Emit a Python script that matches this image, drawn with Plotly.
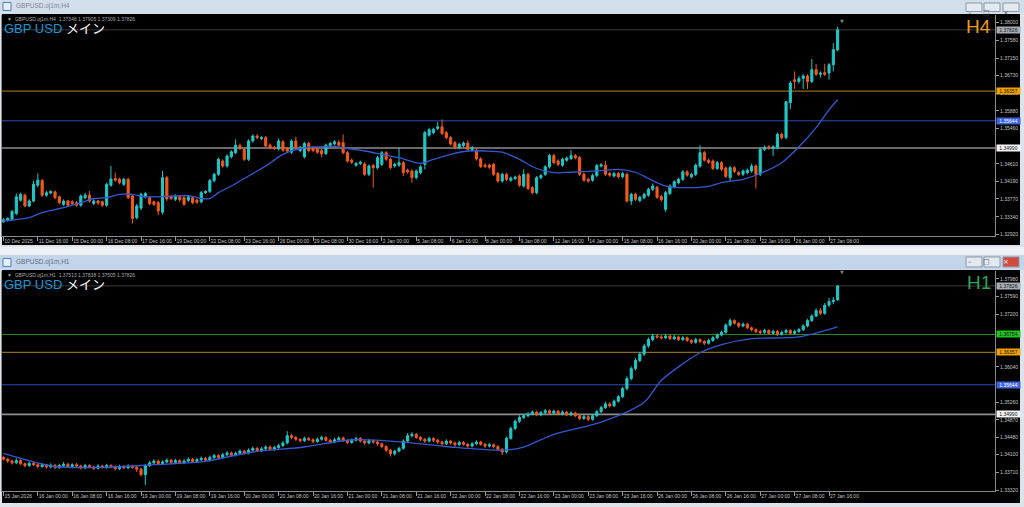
import plotly.graph_objects as go

# ---------------- H4 panel data ----------------
h4_tick_bars = [0, 8, 16, 24, 32, 40, 48, 56, 64, 72, 80, 88, 96, 104, 112, 120, 128, 136, 144, 152, 160, 168, 176, 184, 192]
h4_tick_labels = ["10 Dec 2025", "11 Dec 16:00", "15 Dec 00:00", "16 Dec 08:00", "17 Dec 16:00", "19 Dec 00:00",
                  "22 Dec 08:00", "23 Dec 16:00", "26 Dec 00:00", "29 Dec 08:00", "30 Dec 16:00", "2 Jan 00:00",
                  "5 Jan 08:00", "6 Jan 16:00", "8 Jan 00:00", "9 Jan 08:00", "12 Jan 16:00", "14 Jan 00:00",
                  "15 Jan 08:00", "16 Jan 16:00", "20 Jan 00:00", "21 Jan 08:00", "22 Jan 16:00", "26 Jan 00:00",
                  "27 Jan 08:00"]
h4_price_ticks = [1.32920, 1.33340, 1.33770, 1.34190, 1.34610, 1.35460, 1.35880, 1.36310, 1.36730,
                  1.37150, 1.37580, 1.38000]

h4_open = [1.3322,1.3326,1.3328,1.3342,1.3374,1.3386,1.3360,1.3372,1.3410,1.3421,1.3386,1.3391,1.3394,1.3382,1.3364,1.3372,1.3370,1.3368,1.3362,1.3380,
           1.3386,1.3366,1.3372,1.3370,1.3362,1.3410,1.3426,1.3424,1.3412,1.3424,1.3384,1.3332,1.3355,1.3382,1.3380,1.3370,1.3368,1.3345,1.3428,1.3382,
           1.3376,1.3382,1.3380,1.3374,1.3380,1.3374,1.3370,1.3392,1.3395,1.3421,1.3436,1.3468,1.3456,1.3478,1.3488,1.3505,1.3496,1.3472,1.3516,1.3528,
           1.3522,1.3524,1.3506,1.3501,1.3497,1.3514,1.3498,1.3489,1.3516,1.3493,1.3478,1.3510,1.3500,1.3496,1.3493,1.3486,1.3505,1.3509,1.3513,1.3512,
           1.3488,1.3470,1.3458,1.3462,1.3461,1.3436,1.3457,1.3452,1.3460,1.3488,1.3472,1.3456,1.3458,1.3464,1.3446,1.3444,1.3428,1.3440,1.3460,1.3530,
           1.3536,1.3546,1.3550,1.3536,1.3524,1.3512,1.3500,1.3505,1.3511,1.3495,1.3494,1.3473,1.3458,1.3458,1.3460,1.3438,1.3420,1.3436,1.3422,1.3426,
           1.3432,1.3408,1.3436,1.3404,1.3392,1.3428,1.3436,1.3454,1.3481,1.3468,1.3458,1.3470,1.3474,1.3481,1.3476,1.3436,1.3424,1.3422,1.3433,1.3456,
           1.3458,1.3438,1.3432,1.3438,1.3430,1.3436,1.3372,1.3388,1.3373,1.3380,1.3386,1.3400,1.3405,1.3383,1.3352,1.3390,1.3406,1.3416,1.3424,1.3442,
           1.3430,1.3436,1.3456,1.3488,1.3470,1.3468,1.3450,1.3464,1.3451,1.3428,1.3452,1.3440,1.3436,1.3440,1.3444,1.3456,1.3436,1.3496,1.3502,1.3498,
           1.3500,1.3532,1.3524,1.3608,1.3663,1.3659,1.3666,1.3672,1.3659,1.3687,1.3676,1.3680,1.3679,1.3699,1.37346]
h4_high = [1.3331,1.3333,1.3350,1.3390,1.3392,1.3390,1.3376,1.3420,1.3438,1.3425,1.3396,1.3398,1.3397,1.3385,1.3376,1.3375,1.3374,1.3372,1.3388,1.3392,
           1.3396,1.3376,1.3375,1.3373,1.3416,1.3456,1.3440,1.3428,1.3428,1.3428,1.3388,1.3365,1.3392,1.3394,1.3384,1.3373,1.3372,1.3444,1.3432,1.3386,
           1.3388,1.3386,1.3384,1.3386,1.3384,1.3378,1.3396,1.3398,1.3425,1.3440,1.3476,1.3472,1.3484,1.3494,1.3520,1.3510,1.3500,1.3520,1.3532,1.3532,
           1.3528,1.3528,1.3510,1.3504,1.3522,1.3518,1.3502,1.3520,1.3526,1.3504,1.3514,1.3514,1.3504,1.3500,1.3497,1.3510,1.3514,1.3518,1.3518,1.3532,
           1.3492,1.3474,1.3466,1.3469,1.3465,1.3460,1.3461,1.3480,1.3492,1.3492,1.3476,1.3464,1.3500,1.3468,1.3450,1.3448,1.3448,1.3458,1.3540,1.3548,
           1.3548,1.3562,1.3568,1.3540,1.3528,1.3516,1.3512,1.3515,1.3518,1.3504,1.3498,1.3477,1.3462,1.3462,1.3464,1.3442,1.3440,1.3440,1.3431,1.3433,
           1.3436,1.3448,1.3440,1.3408,1.3432,1.3437,1.3458,1.3485,1.3485,1.3472,1.3476,1.3479,1.3494,1.3485,1.3480,1.3440,1.3428,1.3437,1.3461,1.3463,
           1.3468,1.3442,1.3442,1.3442,1.3442,1.3440,1.3392,1.3392,1.3385,1.3392,1.3404,1.3414,1.3409,1.3387,1.3396,1.3412,1.3422,1.3428,1.3446,1.3446,
           1.3440,1.3462,1.3506,1.3492,1.3474,1.3472,1.3468,1.3468,1.3455,1.3456,1.3456,1.3444,1.3448,1.3450,1.3462,1.3460,1.3500,1.3505,1.3506,1.3506,
           1.3536,1.3536,1.3612,1.3660,1.3683,1.3672,1.3676,1.3676,1.3713,1.3701,1.3683,1.3701,1.3703,1.3751,1.37905]
h4_low = [1.3320,1.3323,1.3325,1.3338,1.3370,1.3357,1.3357,1.3369,1.3405,1.3382,1.3382,1.3388,1.3376,1.3364,1.3360,1.3358,1.3362,1.3358,1.3358,1.3376,
          1.3368,1.3362,1.3363,1.3358,1.3358,1.3406,1.3418,1.3412,1.3408,1.3376,1.3318,1.3328,1.3350,1.3378,1.3362,1.3360,1.3338,1.3340,1.3372,1.3374,
          1.3372,1.3370,1.3360,1.3370,1.3364,1.3365,1.3366,1.3389,1.3391,1.3417,1.3432,1.3452,1.3452,1.3474,1.3484,1.3494,1.3468,1.3468,1.3512,1.3520,
          1.3518,1.3500,1.3496,1.3494,1.3493,1.3490,1.3488,1.3485,1.3496,1.3489,1.3474,1.3489,1.3489,1.3485,1.3477,1.3482,1.3501,1.3505,1.3502,1.3484,
          1.3464,1.3461,1.3454,1.3458,1.3432,1.3432,1.3404,1.3448,1.3456,1.3468,1.3448,1.3452,1.3454,1.3432,1.3438,1.3416,1.3424,1.3436,1.3448,1.3526,
          1.3532,1.3542,1.3530,1.3520,1.3505,1.3496,1.3496,1.3501,1.3492,1.3491,1.3469,1.3451,1.3451,1.3449,1.3432,1.3416,1.3416,1.3420,1.3418,1.3422,
          1.3406,1.3404,1.3398,1.3388,1.3388,1.3424,1.3432,1.3450,1.3460,1.3456,1.3454,1.3466,1.3470,1.3472,1.3432,1.3418,1.3416,1.3418,1.3429,1.3452,
          1.3432,1.3430,1.3428,1.3426,1.3426,1.3368,1.3362,1.3372,1.3369,1.3376,1.3382,1.3396,1.3377,1.3371,1.3346,1.3386,1.3402,1.3412,1.3420,1.3430,
          1.3426,1.3432,1.3452,1.3466,1.3461,1.3446,1.3446,1.3444,1.3427,1.3420,1.3439,1.3432,1.3432,1.3436,1.3440,1.3402,1.3432,1.3492,1.3495,1.3480,
          1.3496,1.3520,1.3520,1.3592,1.3641,1.3654,1.3641,1.3641,1.3655,1.3672,1.3668,1.3672,1.3663,1.3683,1.37309]
h4_close = [1.3327,1.3330,1.3347,1.3382,1.3388,1.3360,1.3372,1.3412,1.3422,1.3386,1.3392,1.3395,1.3380,1.3368,1.3372,1.3362,1.3366,1.3362,1.3384,1.3386,
            1.3372,1.3372,1.3367,1.3362,1.3412,1.3425,1.3422,1.3416,1.3424,1.3380,1.3330,1.3360,1.3388,1.3390,1.3366,1.3364,1.3348,1.3428,1.3377,1.3378,
            1.3383,1.3375,1.3364,1.3382,1.3368,1.3369,1.3392,1.3395,1.3421,1.3436,1.3472,1.3456,1.3480,1.3490,1.3506,1.3498,1.3472,1.3516,1.3528,1.3524,
            1.3524,1.3504,1.3500,1.3498,1.3516,1.3494,1.3492,1.3516,1.3500,1.3500,1.3510,1.3493,1.3493,1.3489,1.3485,1.3506,1.3510,1.3514,1.3506,1.3488,
            1.3468,1.3465,1.3462,1.3465,1.3436,1.3456,1.3452,1.3476,1.3488,1.3472,1.3452,1.3460,1.3464,1.3440,1.3442,1.3428,1.3444,1.3454,1.3536,1.3543,
            1.3544,1.3550,1.3534,1.3524,1.3509,1.3500,1.3508,1.3511,1.3496,1.3500,1.3473,1.3455,1.3455,1.3453,1.3436,1.3420,1.3436,1.3424,1.3427,1.3429,
            1.3410,1.3436,1.3402,1.3392,1.3428,1.3433,1.3454,1.3481,1.3464,1.3460,1.3472,1.3475,1.3481,1.3476,1.3436,1.3422,1.3420,1.3433,1.3457,1.3459,
            1.3436,1.3434,1.3438,1.3430,1.3438,1.3372,1.3388,1.3376,1.3381,1.3388,1.3400,1.3408,1.3381,1.3375,1.3392,1.3408,1.3418,1.3424,1.3442,1.3434,
            1.3436,1.3458,1.3488,1.3470,1.3465,1.3450,1.3464,1.3448,1.3431,1.3452,1.3443,1.3436,1.3444,1.3446,1.3456,1.3436,1.3496,1.3501,1.3499,1.3502,
            1.3532,1.3524,1.3610,1.3655,1.3659,1.3666,1.3672,1.3659,1.3687,1.3676,1.3679,1.3676,1.3699,1.3735,1.37826]
h4_ma_bar = [0, 6, 9, 14, 18, 21, 24, 27, 30, 33, 38, 43, 46, 48, 50, 53, 57, 61, 65, 69, 73, 77, 80, 84, 88, 92, 97,
             100, 104, 108, 112, 116, 120, 124, 128, 132, 136, 140, 143, 147, 150, 154, 159, 164, 167, 172, 176, 181,
             185, 189, 192, 194]
h4_ma = [1.3324, 1.3332, 1.3344, 1.3356, 1.3368, 1.3378, 1.3380, 1.3388, 1.3388, 1.3382, 1.3383, 1.3385, 1.3378, 1.3378,
         1.3392, 1.3408, 1.3432, 1.3456, 1.3484, 1.3498, 1.3502, 1.3503, 1.3498, 1.3492, 1.3484, 1.3476, 1.3462,
         1.3472, 1.3484, 1.3492, 1.3492, 1.3489, 1.3472, 1.3450, 1.3440, 1.3441, 1.3443, 1.3446, 1.3448, 1.3441,
         1.3426, 1.3408, 1.3404, 1.3407, 1.3416, 1.3424, 1.3438, 1.3464, 1.3502, 1.3548, 1.3591, 1.3615]
h4_levels = [1.37826, 1.36357, 1.35644, 1.34990]

# ---------------- H1 panel data ----------------
h1_tick_bars = [0, 8, 16, 24, 32, 40, 48, 56, 64, 72, 80, 88, 96, 104, 112, 120, 128, 136, 144, 152, 160, 168, 176, 184, 192]
h1_tick_labels = ["15 Jan 2026", "16 Jan 00:00", "16 Jan 08:00", "16 Jan 16:00", "19 Jan 00:00", "19 Jan 08:00",
                  "19 Jan 16:00", "20 Jan 00:00", "20 Jan 08:00", "20 Jan 16:00", "21 Jan 00:00", "21 Jan 08:00",
                  "21 Jan 16:00", "22 Jan 00:00", "22 Jan 08:00", "22 Jan 16:00", "23 Jan 00:00", "23 Jan 08:00",
                  "23 Jan 16:00", "26 Jan 00:00", "26 Jan 08:00", "26 Jan 16:00", "27 Jan 00:00", "27 Jan 08:00",
                  "27 Jan 16:00"]
h1_price_ticks = [1.33320, 1.33710, 1.34100, 1.34480, 1.34870, 1.35260, 1.36040, 1.37200, 1.37590, 1.37980]

h1_open = [1.3404,1.3400,1.3396,1.3392,1.3397,1.3390,1.3386,1.3391,1.3388,1.3384,
           1.3388,1.3383,1.3387,1.3382,1.3386,1.3389,1.3384,1.3388,1.3385,1.3381,
           1.3386,1.3383,1.3380,1.3385,1.3382,1.3386,1.3383,1.3379,1.3384,1.3381,
           1.3385,1.3382,1.3378,1.3366,1.3386,1.3392,1.3396,1.3390,1.3394,1.3398,
           1.3393,1.3397,1.3392,1.3396,1.3400,1.3395,1.3399,1.3402,1.3398,1.3404,
           1.3408,1.3404,1.3410,1.3414,1.3409,1.3413,1.3418,1.3414,1.3420,1.3424,
           1.3419,1.3423,1.3427,1.3422,1.3426,1.3430,1.3436,1.3452,1.3448,1.3444,
           1.3441,1.3446,1.3443,1.3439,1.3444,1.3448,1.3442,1.3438,1.3443,1.3447,
           1.3441,1.3437,1.3442,1.3446,1.3440,1.3436,1.3441,1.3438,1.3434,1.3428,
           1.3420,1.3412,1.3418,1.3424,1.3440,1.3452,1.3455,1.3448,1.3444,1.3440,
           1.3446,1.3442,1.3438,1.3434,1.3440,1.3436,1.3432,1.3437,1.3433,1.3429,
           1.3434,1.3438,1.3433,1.3429,1.3432,1.3428,1.3422,1.3416,1.3446,1.3468,
           1.3484,1.3492,1.3496,1.3500,1.3504,1.3498,1.3503,1.3507,1.3502,1.3506,
           1.3500,1.3504,1.3498,1.3502,1.3496,1.3490,1.3494,1.3488,1.3496,1.3505,
           1.3514,1.3522,1.3518,1.3528,1.3538,1.3556,1.3578,1.3600,1.3618,1.3632,
           1.3650,1.3664,1.3672,1.3670,1.3668,1.3672,1.3666,1.3670,1.3664,1.3668,
           1.3662,1.3658,1.3664,1.3660,1.3656,1.3662,1.3668,1.3674,1.3680,1.3696,
           1.3706,1.3700,1.3694,1.3698,1.3690,1.3686,1.3682,1.3680,1.3684,1.3678,
           1.3682,1.3676,1.3680,1.3684,1.3678,1.3682,1.3686,1.3694,1.3706,1.3716,
           1.3728,1.3722,1.3740,1.3748,1.37513]
h1_high = [1.3408,1.3403,1.3399,1.3402,1.3400,1.3393,1.3395,1.3394,1.3391,1.3392,
           1.3390,1.3391,1.3389,1.3390,1.3394,1.3392,1.3391,1.3392,1.3388,1.3390,
           1.3389,1.3386,1.3389,1.3388,1.3390,1.3389,1.3386,1.3388,1.3387,1.3389,
           1.3388,1.3385,1.3381,1.3389,1.3396,1.3400,1.3399,1.3398,1.3402,1.3401,
           1.3401,1.3400,1.3400,1.3404,1.3403,1.3403,1.3406,1.3405,1.3408,1.3412,
           1.3411,1.3414,1.3418,1.3417,1.3417,1.3422,1.3421,1.3424,1.3428,1.3427,
           1.3427,1.3431,1.3430,1.3430,1.3434,1.3440,1.3462,1.3456,1.3451,1.3447,
           1.3450,1.3449,1.3446,1.3448,1.3452,1.3451,1.3445,1.3447,1.3451,1.3450,
           1.3444,1.3446,1.3450,1.3449,1.3443,1.3445,1.3444,1.3441,1.3437,1.3431,
           1.3423,1.3421,1.3428,1.3444,1.3458,1.3460,1.3458,1.3451,1.3447,1.3450,
           1.3449,1.3445,1.3441,1.3444,1.3443,1.3439,1.3441,1.3440,1.3436,1.3438,
           1.3442,1.3441,1.3436,1.3436,1.3435,1.3431,1.3425,1.3450,1.3472,1.3488,
           1.3497,1.3500,1.3504,1.3508,1.3507,1.3507,1.3511,1.3510,1.3510,1.3509,
           1.3508,1.3507,1.3506,1.3505,1.3499,1.3498,1.3497,1.3500,1.3509,1.3518,
           1.3527,1.3526,1.3532,1.3542,1.3560,1.3583,1.3605,1.3623,1.3637,1.3655,
           1.3669,1.3677,1.3676,1.3674,1.3676,1.3675,1.3674,1.3673,1.3672,1.3671,
           1.3665,1.3668,1.3667,1.3663,1.3666,1.3672,1.3678,1.3684,1.3700,1.3711,
           1.3709,1.3703,1.3702,1.3701,1.3693,1.3689,1.3686,1.3688,1.3687,1.3686,
           1.3685,1.3684,1.3688,1.3687,1.3686,1.3690,1.3698,1.3710,1.3720,1.3733,
           1.3734,1.3745,1.3756,1.3758,1.37838]
h1_low = [1.3397,1.3392,1.3388,1.3389,1.3387,1.3382,1.3383,1.3385,1.3380,1.3381,
          1.3379,1.3380,1.3378,1.3379,1.3383,1.3381,1.3380,1.3382,1.3377,1.3378,
          1.3380,1.3376,1.3377,1.3379,1.3379,1.3380,1.3375,1.3376,1.3378,1.3378,
          1.3379,1.3372,1.3362,1.3343,1.3383,1.3389,1.3387,1.3387,1.3391,1.3390,
          1.3390,1.3389,1.3389,1.3393,1.3392,1.3392,1.3396,1.3395,1.3395,1.3401,
          1.3401,1.3401,1.3407,1.3406,1.3406,1.3410,1.3411,1.3411,1.3417,1.3416,
          1.3416,1.3420,1.3419,1.3419,1.3423,1.3427,1.3433,1.3444,1.3440,1.3437,
          1.3438,1.3440,1.3435,1.3436,1.3441,1.3439,1.3434,1.3435,1.3440,1.3438,
          1.3433,1.3434,1.3439,1.3437,1.3432,1.3433,1.3434,1.3430,1.3424,1.3416,
          1.3406,1.3408,1.3415,1.3421,1.3437,1.3448,1.3445,1.3440,1.3436,1.3437,
          1.3438,1.3434,1.3430,1.3431,1.3432,1.3428,1.3429,1.3430,1.3425,1.3426,
          1.3431,1.3430,1.3425,1.3426,1.3424,1.3418,1.3409,1.3413,1.3443,1.3464,
          1.3480,1.3489,1.3493,1.3497,1.3495,1.3495,1.3500,1.3499,1.3499,1.3497,
          1.3497,1.3495,1.3495,1.3493,1.3486,1.3487,1.3484,1.3485,1.3493,1.3502,
          1.3511,1.3514,1.3515,1.3525,1.3535,1.3552,1.3574,1.3596,1.3614,1.3628,
          1.3646,1.3660,1.3666,1.3664,1.3665,1.3663,1.3663,1.3661,1.3661,1.3659,
          1.3654,1.3655,1.3656,1.3652,1.3653,1.3659,1.3665,1.3671,1.3677,1.3693,
          1.3697,1.3690,1.3691,1.3687,1.3682,1.3678,1.3676,1.3677,1.3675,1.3675,
          1.3672,1.3673,1.3677,1.3675,1.3675,1.3679,1.3683,1.3691,1.3703,1.3713,
          1.3718,1.3719,1.3736,1.3742,1.37505]
h1_close = [1.3400,1.3396,1.3392,1.3397,1.3390,1.3386,1.3391,1.3388,1.3384,1.3388,
            1.3383,1.3387,1.3382,1.3386,1.3389,1.3384,1.3388,1.3385,1.3381,1.3386,
            1.3383,1.3380,1.3385,1.3382,1.3386,1.3383,1.3379,1.3384,1.3381,1.3385,
            1.3382,1.3378,1.3366,1.3386,1.3392,1.3396,1.3390,1.3394,1.3398,1.3393,
            1.3397,1.3392,1.3396,1.3400,1.3395,1.3399,1.3402,1.3398,1.3404,1.3408,
            1.3404,1.3410,1.3414,1.3409,1.3413,1.3418,1.3414,1.3420,1.3424,1.3419,
            1.3423,1.3427,1.3422,1.3426,1.3430,1.3436,1.3452,1.3448,1.3444,1.3441,
            1.3446,1.3443,1.3439,1.3444,1.3448,1.3442,1.3438,1.3443,1.3447,1.3441,
            1.3437,1.3442,1.3446,1.3440,1.3436,1.3441,1.3438,1.3434,1.3428,1.3420,
            1.3412,1.3418,1.3424,1.3440,1.3452,1.3455,1.3448,1.3444,1.3440,1.3446,
            1.3442,1.3438,1.3434,1.3440,1.3436,1.3432,1.3437,1.3433,1.3429,1.3434,
            1.3438,1.3433,1.3429,1.3432,1.3428,1.3422,1.3416,1.3446,1.3468,1.3484,
            1.3492,1.3496,1.3500,1.3504,1.3498,1.3503,1.3507,1.3502,1.3506,1.3500,
            1.3504,1.3498,1.3502,1.3496,1.3490,1.3494,1.3488,1.3496,1.3505,1.3514,
            1.3522,1.3518,1.3528,1.3538,1.3556,1.3578,1.3600,1.3618,1.3632,1.3650,
            1.3664,1.3672,1.3670,1.3668,1.3672,1.3666,1.3670,1.3664,1.3668,1.3662,
            1.3658,1.3664,1.3660,1.3656,1.3662,1.3668,1.3674,1.3680,1.3696,1.3706,
            1.3700,1.3694,1.3698,1.3690,1.3686,1.3682,1.3680,1.3684,1.3678,1.3682,
            1.3676,1.3680,1.3684,1.3678,1.3682,1.3686,1.3694,1.3706,1.3716,1.3728,
            1.3722,1.3740,1.3748,1.3751,1.37826]
h1_ma_bar = [0, 12, 23, 35, 46, 58, 70, 81, 93, 104, 116, 121, 128, 139, 149, 153, 162, 167, 174, 185, 194]
h1_ma = [1.3413, 1.3384, 1.3382, 1.3388, 1.3394, 1.3416, 1.3427, 1.3443, 1.3438, 1.3427, 1.3420, 1.3427, 1.3455,
         1.3482, 1.3526, 1.3574, 1.3635, 1.3653, 1.3666, 1.3670, 1.3692]
h1_levels = [1.37826, 1.36754, 1.36357, 1.35644, 1.34990]

# ---------------- styling ----------------
W, H = 1024, 507
CYAN = "#22C7C7"
ORANGE = "#F25A1C"
MA_COLOR = "#3558D0"
level_line = {1.37826: ("#3C3C3C", 1), 1.36754: ("#2E8A2E", 1), 1.36357: ("#8C6A1E", 1.2),
              1.35644: ("#2E4AB8", 1), 1.34990: ("#8E8E8E", 1.6)}
level_box = {1.37826: ("#A4ACB4", "#202020"), 1.36754: ("#22C322", "#101010"), 1.36357: ("#F2A200", "#101010"),
             1.35644: ("#3E62DA", "#FFFFFF"), 1.34990: ("#F4F4F4", "#101010")}


def px(x):
    return x / W


def py(y):
    return 1 - y / H


TICKFONT = dict(family="Liberation Sans, Arial", size=5, color="#C4C4C4")

fig = go.Figure()
panels = [
    dict(o=h4_open, h=h4_high, l=h4_low, c=h4_close, mab=h4_ma_bar, ma=h4_ma, xa="x", ya="y"),
    dict(o=h1_open, h=h1_high, l=h1_low, c=h1_close, mab=h1_ma_bar, ma=h1_ma, xa="x2", ya="y2"),
]
for p in panels:
    fig.add_trace(go.Candlestick(
        x=list(range(len(p["c"]))), open=p["o"], high=p["h"], low=p["l"], close=p["c"],
        increasing=dict(line=dict(color=CYAN, width=1), fillcolor=CYAN),
        decreasing=dict(line=dict(color=ORANGE, width=1), fillcolor=ORANGE),
        whiskerwidth=0, xaxis=p["xa"], yaxis=p["ya"], showlegend=False, hoverinfo="skip"))
    fig.add_trace(go.Scatter(x=p["mab"], y=p["ma"], mode="lines", xaxis=p["xa"], yaxis=p["ya"],
                             line=dict(color=MA_COLOR, width=1.3, shape="spline", smoothing=0.8),
                             showlegend=False, hoverinfo="skip"))

shapes = []
# window chrome
shapes.append(dict(type="rect", xref="paper", yref="paper", x0=0, x1=1, y0=py(13.5), y1=py(0),
                   fillcolor="#D3DEEB", line=dict(width=0), layer="below"))
shapes.append(dict(type="rect", xref="paper", yref="paper", x0=0, x1=1, y0=py(256), y1=py(248),
                   fillcolor="#EEF0F3", line=dict(width=0), layer="below"))
shapes.append(dict(type="rect", xref="paper", yref="paper", x0=0, x1=1, y0=py(270.5), y1=py(256),
                   fillcolor="#C2D5EA", line=dict(width=0), layer="below"))
shapes.append(dict(type="rect", xref="paper", yref="paper", x0=px(2), x1=px(1020), y0=py(246), y1=py(14),
                   fillcolor="#000000", line=dict(width=0), layer="below"))
shapes.append(dict(type="rect", xref="paper", yref="paper", x0=px(2), x1=px(1020), y0=py(505), y1=py(271),
                   fillcolor="#000000", line=dict(width=0), layer="below"))
# window icons
for yc in (6.5, 263.5):
    shapes.append(dict(type="rect", xref="paper", yref="paper", x0=px(3), x1=px(11), y0=py(yc + 4), y1=py(yc - 4),
                       fillcolor="#E8EEF6", line=dict(color="#4A7FC0", width=1), layer="above"))
# window buttons
for (y0, y1, close_col) in ((3, 11.5, "#E4E9F0"), (258, 268, "#D2493D")):
    for i, (x0, x1) in enumerate(((966, 982), (984, 1000), (1003, 1019))):
        col = close_col if i == 2 else "#E4E9F0"
        shapes.append(dict(type="rect", xref="paper", yref="paper", x0=px(x0), x1=px(x1), y0=py(y1), y1=py(y0),
                           fillcolor=col, line=dict(color="#8B99AB", width=1), layer="above"))
# price levels
for lv in h4_levels:
    col, wd = level_line[lv]
    shapes.append(dict(type="line", xref="x domain", yref="y", x0=0, x1=1, y0=lv, y1=lv,
                       line=dict(color=col, width=wd), layer="below"))
for lv in h1_levels:
    col, wd = level_line[lv]
    shapes.append(dict(type="line", xref="x2 domain", yref="y2", x0=0, x1=1, y0=lv, y1=lv,
                       line=dict(color=col, width=wd), layer="below"))

ann = []
# title bars
ann.append(dict(text="GBPUSD.oj1m,H4", x=px(14), y=py(6.5), xref="paper", yref="paper", xanchor="left",
                yanchor="middle", showarrow=False, font=dict(family="Liberation Sans", size=6.5, color="#7B8794")))
ann.append(dict(text="GBPUSD.oj1m,H1", x=px(14), y=py(263.5), xref="paper", yref="paper", xanchor="left",
                yanchor="middle", showarrow=False, font=dict(family="Liberation Sans", size=6.5, color="#5E6B7A")))
for (xc, yc, g, col) in ((974, 7, "–", "#4F5B69"), (992, 7, "□", "#4F5B69"), (1011, 7, "×", "#4F5B69"),
                         (974, 263, "–", "#4F5B69"), (992, 263, "□", "#4F5B69"), (1011, 263, "×", "#FFFFFF")):
    ann.append(dict(text=g, x=px(xc), y=py(yc), xref="paper", yref="paper", showarrow=False,
                    font=dict(family="DejaVu Sans", size=7, color=col)))
# chart headers
for (ytop, info, tf, tfcol) in ((19.5, "▼  GBPUSD.oj1m,H4  1.37346 1.37905 1.37309 1.37826", "H4", "#E89C1C"),
                                (276.5, "▼  GBPUSD.oj1m,H1  1.37513 1.37838 1.37505 1.37826", "H1", "#2FA35E")):
    ann.append(dict(text=info, x=px(5), y=py(ytop), xref="paper", yref="paper", xanchor="left", yanchor="middle",
                    showarrow=False, font=dict(family="Liberation Sans", size=5, color="#A8A8A8")))
    ann.append(dict(text="<span style='color:#1E98D6'>GBP USD</span> <span style='color:#FFFFFF'>メイン</span>",
                    x=px(2), y=py(ytop + 9), xref="paper", yref="paper", xanchor="left", yanchor="middle",
                    showarrow=False, font=dict(family="Liberation Sans, Noto Sans CJK JP", size=13)))
    ann.append(dict(text=tf, x=px(993), y=py(ytop + 7), xref="paper", yref="paper", xanchor="right",
                    yanchor="middle", showarrow=False, font=dict(family="Liberation Sans", size=19, color=tfcol)))
    ann.append(dict(text="▼", x=px(846), y=py(ytop - 3), xref="paper", yref="paper", showarrow=False,
                    font=dict(family="DejaVu Sans", size=5, color="#7A7A7A")))
# price label boxes
for lvls, yref in ((h4_levels, "y"), (h1_levels, "y2")):
    for lv in lvls:
        bg, fg = level_box[lv]
        ann.append(dict(text=f"{lv:.5f}", x=px(996), y=lv, xref="paper", yref=yref, xanchor="left",
                        yanchor="middle", showarrow=False, bgcolor=bg, width=23, height=6, borderpad=0,
                        font=dict(family="Liberation Sans", size=5, color=fg)))

xcommon = dict(range=[-0.45, 230.6], tickmode="array", ticks="outside", ticklen=4, tickcolor="#9A9A9A",
               tickfont=TICKFONT, ticklabelposition="outside right", tickangle=0, showgrid=False, zeroline=False,
               showline=True, linecolor="#8A8A8A", linewidth=1, rangeslider=dict(visible=False), fixedrange=True)
ycommon = dict(side="right", tickmode="array", tickformat=".5f", ticks="outside", ticklen=3, tickcolor="#9A9A9A",
               tickfont=TICKFONT, showgrid=False, zeroline=False, showline=True, mirror=True,
               linecolor="#8A8A8A", linewidth=1, fixedrange=True)

fig.update_layout(
    width=W, height=H, margin=dict(l=0, r=0, t=0, b=0),
    paper_bgcolor="#DCE3EB", plot_bgcolor="rgba(0,0,0,0)", showlegend=False,
    xaxis=dict(xcommon, domain=[px(1.5), px(995)], tickvals=h4_tick_bars, ticktext=h4_tick_labels, anchor="y"),
    yaxis=dict(ycommon, domain=[py(236.5), py(15)], range=[1.32891, 1.38184], tickvals=h4_price_ticks, anchor="x"),
    xaxis2=dict(xcommon, domain=[px(1.5), px(995)], tickvals=h1_tick_bars, ticktext=h1_tick_labels, anchor="y2"),
    yaxis2=dict(ycommon, domain=[py(493), py(272)], range=[1.33298, 1.38156], tickvals=h1_price_ticks, anchor="x2"),
    shapes=shapes, annotations=ann,
)

fig.write_html("out.html", config={"displayModeBar": False},
               post_script="document.body.style.margin='0';document.body.style.overflow='hidden';")
